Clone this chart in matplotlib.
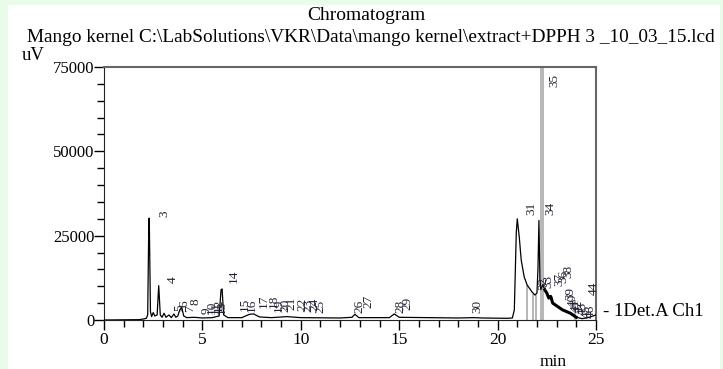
import matplotlib.pyplot as plt
from matplotlib.patches import Rectangle
import numpy as np

plt.rcParams['font.family'] = ['Liberation Serif', 'DejaVu Serif']

# chromatogram trace (min, uV)
trace_t = [0.0, 1.8, 2.0, 2.15, 2.22, 2.28, 2.30, 2.36, 2.42, 2.50, 2.58, 2.70, 2.78, 2.86,
           2.95, 3.05, 3.15, 3.30, 3.42, 3.55, 3.65, 3.75, 3.85, 3.95, 4.05, 4.20, 4.60,
           5.00, 5.50, 5.85, 5.95, 6.00, 6.08, 6.30, 7.00, 7.40, 7.60, 7.90, 8.50, 9.30,
           10.0, 12.0, 12.6, 12.75, 12.95, 14.5, 14.75, 15.0, 18.0, 18.8, 19.2, 20.5,
           20.75, 20.85, 20.95, 21.0, 21.1, 21.2, 21.35, 21.5, 21.75, 21.9, 22.0, 22.05,
           22.1, 22.15, 22.2, 22.3, 22.4, 22.5, 22.6, 22.7, 22.8, 23.0, 23.3, 23.7, 24.0,
           24.3, 24.6, 25.0]
trace_v = [0, 100, 300, 500, 1500, 30000, 30200, 2500, 1000, 2200, 1200, 1500, 10200, 1500,
           800, 2000, 800, 1500, 700, 1800, 800, 1200, 3000, 3800, 1200, 700, 800,
           600, 700, 1200, 9000, 9200, 1500, 700, 700, 1700, 1800, 900, 700, 1000,
           700, 600, 800, 1700, 700, 700, 1800, 800, 600, 700, 600, 500,
           600, 3000, 26000, 30000, 24600, 17800, 12800, 10400, 8300, 7400, 8000, 15000,
           29500, 12000, 9000, 10500, 8900, 8000, 6500, 7000, 5000, 4200, 3000, 2000, 800,
           400, 700, 1500]

# grey drop lines of the integration (time, top)
drop_t = [21.5, 21.8, 21.95, 22.22, 22.33, 23.93]
drop_v = [10400, 7700, 7400, 78000, 78000, 6000]

# peak numbers and where they are printed
peak_ids = ['3', '4', '5', '6', '7', '8', '9', '10', '11', '12', '13', '14', '15', '16',
            '17', '18', '19', '20', '21', '22', '23', '24', '25', '26', '27', '28', '29',
            '30', '31', '32', '33', '34', '35', '36', '37', '38', '39', '40', '41', '42',
            '43', '44', '45', '46']
label_t = [2.74, 3.2, 3.5, 3.8, 4.05, 4.35, 4.9, 5.15, 5.4, 5.55, 5.7, 6.3, 6.86, 7.2,
           7.8, 8.3, 8.6, 8.9, 9.2, 9.8, 10.1, 10.4, 10.7, 12.65, 13.15, 14.75, 15.1,
           18.65, 21.4, 22.0, 22.3, 22.36, 22.6, 23.05, 22.85, 23.3, 23.4, 23.5, 23.65, 23.8,
           24.0, 24.6, 24.2, 24.45]
label_v = [30500, 11000, 2700, 3800, 2500, 4300, 1800, 1800, 1800, 2400, 1800, 11000, 2700, 2400,
           3500, 3500, 2500, 2500, 3000, 2800, 2500, 2800, 2200, 2100, 3500, 2100, 3000,
           2100, 31100, 8900, 9500, 31100, 69000, 11000, 10000, 12500, 6000, 4000, 2500, 2000,
           1500, 7400, 600, 600]

fig = plt.figure(figsize=(7.23, 3.69), dpi=100)
fig.patch.set_facecolor('#e9fbe9')
fig.patches.append(Rectangle((8 / 723, 0), 712 / 723, 364 / 369, transform=fig.transFigure,
                             facecolor='white', edgecolor='none', zorder=-1))

ax = fig.add_axes([104 / 723, 49 / 369, 492 / 723, 253 / 369])
ax.set_facecolor('white')

for t, v in zip(drop_t, drop_v):
    ax.vlines(t, 0, v, color='#aaaaaa', lw=1.2, zorder=2)

t = np.array(trace_t)
v = np.array(trace_v)
ax.plot(t, v, color='black', lw=0.9, zorder=3)
tail = (t >= 22.4) & (t <= 24.0)
ax.plot(t[tail], v[tail], color='black', lw=2.2, zorder=3)

for name, lt, lv in zip(peak_ids, label_t, label_v):
    ax.text(lt, lv, name, rotation=90, ha='left', va='bottom', fontsize=9.5,
            color='#222233', zorder=4)

ax.set_xlim(0, 25)
ax.set_ylim(0, 75000)
ax.set_xticks([0, 5, 10, 15, 20, 25])
ax.set_xticks(np.arange(0, 26, 1), minor=True)
ax.set_yticks([0, 25000, 50000, 75000])
ax.set_yticks(np.arange(0, 75001, 5000), minor=True)
ax.tick_params(which='major', length=7, width=1, labelsize=12.5, direction='out', pad=2)
ax.tick_params(axis='y', which='major', labelsize=12, pad=0)
ax.tick_params(which='minor', length=5, width=1, direction='out')
for side in ['left', 'bottom']:
    ax.spines[side].set_color('#222222')
for side in ['top', 'right']:
    ax.spines[side].set_color('#666666')
    ax.spines[side].set_linewidth(1.5)

fig.text(366 / 723, 1 - 16 / 369, 'Chromatogram', ha='center', va='center', fontsize=14)
fig.text(371 / 723, 1 - 37 / 369,
         'Mango kernel C:\\LabSolutions\\VKR\\Data\\mango kernel\\extract+DPPH 3 _10_03_15.lcd',
         ha='center', va='center', fontsize=13.9)
fig.text(33 / 723, 1 - 55 / 369, 'uV', ha='center', va='center', fontsize=13.5)
fig.text(553 / 723, 1 - 362 / 369, 'min', ha='center', va='center', fontsize=12.5)
fig.text(603 / 723, 1 - 311 / 369, '- 1Det.A Ch1', ha='left', va='center', fontsize=13.5)

fig.savefig('out.png', dpi=100, facecolor=fig.get_facecolor())
